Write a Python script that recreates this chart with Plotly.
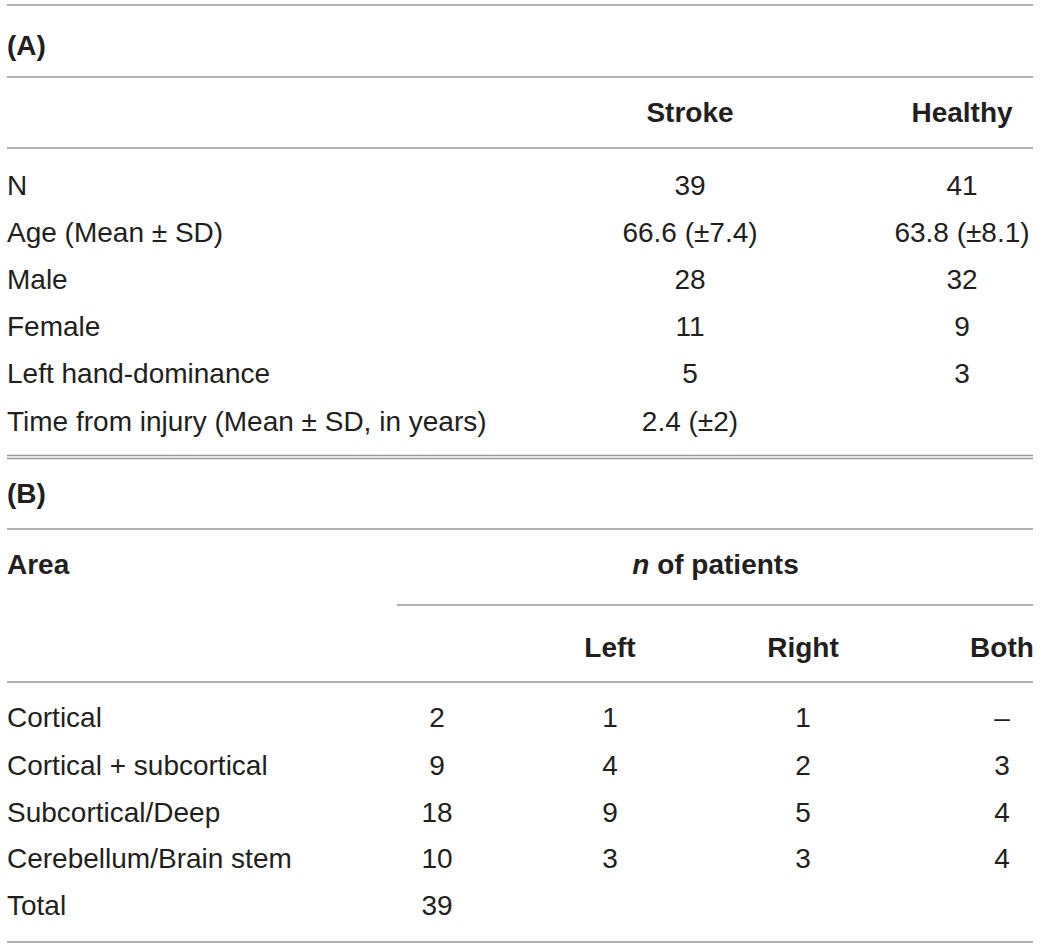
import plotly.graph_objects as go

# ---- data ----
a_rows = ["N", "Age (Mean ± SD)", "Male", "Female", "Left hand-dominance",
          "Time from injury (Mean ± SD, in years)"]
a_cols = ["Stroke", "Healthy"]
stroke = ["39", "66.6 (±7.4)", "28", "11", "5", "2.4 (±2)"]
healthy = ["41", "63.8 (±8.1)", "32", "9", "3", ""]

b_areas = ["Cortical", "Cortical + subcortical", "Subcortical/Deep",
           "Cerebellum/Brain stem", "Total"]
b_cols = ["Left", "Right", "Both"]
b_total = ["2", "9", "18", "10", "39"]
b_left = ["1", "4", "9", "3", ""]
b_right = ["1", "2", "5", "3", ""]
b_both = ["–", "3", "4", "4", ""]

# ---- layout (pixel-like units, y down) ----
W, H = 1040, 948
FS = 28
TXT = "#231f20"
RULE = "#999999"
DY = 3  # baseline correction so caps sit centred on the row

x_left = 7
x_right = 1033
x_stroke, x_healthy = 690, 962
x_tot, x_l, x_r, x_b = 437, 610, 803, 1002

y_a_title, y_a_head = 45, 112
y_a_rows = [185, 232, 279, 326, 373, 421]
y_b_title, y_b_head1, y_b_head2 = 493, 564, 647
y_b_rows = [717, 765, 812, 858, 905]

fig = go.Figure()


def add_text(xs, ys, texts, pos, bold=False):
    if bold:
        texts = [f"<b>{t}</b>" for t in texts]
    fig.add_trace(go.Scatter(
        x=xs, y=[y + DY for y in ys], text=texts, mode="text",
        textposition=pos, hoverinfo="skip", showlegend=False,
        textfont=dict(family="Liberation Sans, Arial, sans-serif", size=FS, color=TXT),
    ))


# part A
add_text([x_left], [y_a_title], ["(A)"], "middle right", bold=True)
add_text([x_stroke, x_healthy], [y_a_head] * 2, a_cols, "middle center", bold=True)
add_text([x_left] * len(a_rows), y_a_rows, a_rows, "middle right")
add_text([x_stroke] * len(stroke), y_a_rows, stroke, "middle center")
add_text([x_healthy] * len(healthy), y_a_rows, healthy, "middle center")

# part B
add_text([x_left], [y_b_title], ["(B)"], "middle right", bold=True)
add_text([x_left], [y_b_head1], ["Area"], "middle right", bold=True)
add_text([(x_tot + x_b) / 2 - 4], [y_b_head1], ["<i>n</i> of patients"], "middle center", bold=True)
add_text([x_l, x_r, x_b], [y_b_head2] * 3, b_cols, "middle center", bold=True)
add_text([x_left] * len(b_areas), y_b_rows, b_areas, "middle right")
for xc, col in zip([x_tot, x_l, x_r, x_b], [b_total, b_left, b_right, b_both]):
    add_text([xc] * len(col), y_b_rows, col, "middle center")

# horizontal rules
rules = [(x_left, 5), (x_left, 77), (x_left, 148), (x_left, 455.5), (x_left, 458.5),
         (x_left, 529), (397, 605), (x_left, 682), (x_left, 942)]
for x0, y in rules:
    fig.add_shape(type="line", xref="x", yref="y", x0=x0, x1=x_right, y0=y, y1=y,
                  line=dict(color=RULE, width=1.3))

fig.update_layout(
    width=W, height=H,
    margin=dict(l=0, r=0, t=0, b=0),
    paper_bgcolor="white", plot_bgcolor="white",
    xaxis=dict(range=[0, W], visible=False, fixedrange=True),
    yaxis=dict(range=[H, 0], visible=False, fixedrange=True),
)

# drop the default 8px page margin so the figure sits at the window origin
fig.write_html("out.html", config={"displayModeBar": False},
               post_script="document.body.style.margin='0';")
